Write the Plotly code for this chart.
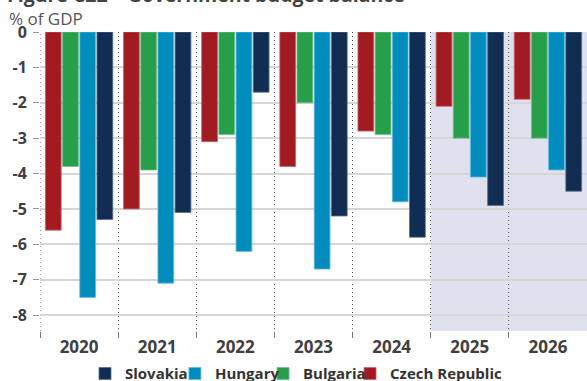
import plotly.graph_objects as go

years = ["2020", "2021", "2022", "2023", "2024", "2025", "2026"]
czech = [-5.6, -5.0, -3.1, -3.8, -2.8, -2.1, -1.9]
bulgaria = [-3.8, -3.9, -2.9, -2.0, -2.9, -3.0, -3.0]
hungary = [-7.5, -7.1, -6.2, -6.7, -4.8, -4.1, -3.9]
slovakia = [-5.3, -5.1, -1.7, -5.2, -5.8, -4.9, -4.5]
y_ticks = [0, -1, -2, -3, -4, -5, -6, -7, -8]
forecast_years = ["2025", "2026"]

FONT = "Open Sans"
TEXT = "#404040"
SEP = "#555555"

# name, values, fill, edge, legend id, legend x (container fraction)
series = [
    ("Czech Republic", czech, "#a31b22", "#c9656a", "legend4", 0.5963),
    ("Bulgaria", bulgaria, "#279e4a", "#72c08a", "legend3", 0.4481),
    ("Hungary", hungary, "#008dbd", "#66bde0", "legend2", 0.2980),
    ("Slovakia", slovakia, "#112d52", "#5a6f8c", "legend", 0.1448),
]

fig = go.Figure()
legends = {}
for name, vals, col, edge, leg, lx in series:
    fig.add_trace(go.Bar(
        x=years, y=vals, name=name, legend=leg,
        marker=dict(color=col, line=dict(color=edge, width=0.8)),
    ))
    legends[leg] = dict(
        orientation="h", xref="container", yref="paper",
        x=lx, xanchor="left", y=-0.143, yanchor="middle",
        font=dict(family=FONT, size=15, color="#333333", weight="bold"),
        itemwidth=30, bgcolor="rgba(0,0,0,0)",
    )

# forecast period shading
i0 = years.index(forecast_years[0]) - 0.5
i1 = years.index(forecast_years[-1]) + 0.5
fig.add_shape(type="rect", xref="x", yref="paper", x0=i0, x1=i1, y0=0, y1=1,
              fillcolor="#dfe1ee", line_width=0, layer="between")
# dotted separator along the left edge of the first year
fig.add_shape(type="line", xref="x", yref="paper", x0=-0.5, x1=-0.5, y0=0, y1=1,
              line=dict(color=SEP, width=1, dash="1px,3px"), layer="between")

fig.add_annotation(text="% of GDP", xref="paper", yref="paper", x=-0.0607, y=1.0016,
                   xanchor="left", yanchor="bottom", showarrow=False,
                   font=dict(family=FONT, size=17, color="#555555"))
fig.add_annotation(text="<b>Figure C22 – Government budget balance</b>", xref="paper",
                   yref="paper", x=-0.064, y=1.072, xanchor="left", yanchor="bottom",
                   showarrow=False, font=dict(family=FONT, size=19.5, color="#444444"))

fig.update_layout(
    width=587, height=381,
    margin=dict(l=39.5, r=0, t=31.5, b=50, autoexpand=False),
    paper_bgcolor="white", plot_bgcolor="white",
    barmode="group", bargap=0.12, bargroupgap=0.08,
    font=dict(family=FONT, color=TEXT),
    showlegend=True,
    **legends,
)
fig.update_xaxes(
    type="category", tickson="boundaries", showgrid=True, griddash="1px,3px",
    gridcolor=SEP, gridwidth=1, ticks="outside", ticklen=6, tickcolor="#777777",
    tickfont=dict(family=FONT, size=17, color=TEXT, weight="bold"), ticklabelstandoff=4,
    showline=False, zeroline=False, range=[-0.5, 6.5], automargin=False,
)
fig.update_yaxes(
    range=[-8.45, 0], tickvals=y_ticks, ticktext=[str(v) for v in y_ticks],
    showgrid=True, gridcolor="#d6d6d6", gridwidth=1.5, zeroline=False,
    ticks="outside", ticklen=6, tickcolor="#999999", ticklabelstandoff=3,
    tickfont=dict(family=FONT, size=16, color=TEXT, weight="bold"), automargin=False,
)

fig.write_html("out.html")
